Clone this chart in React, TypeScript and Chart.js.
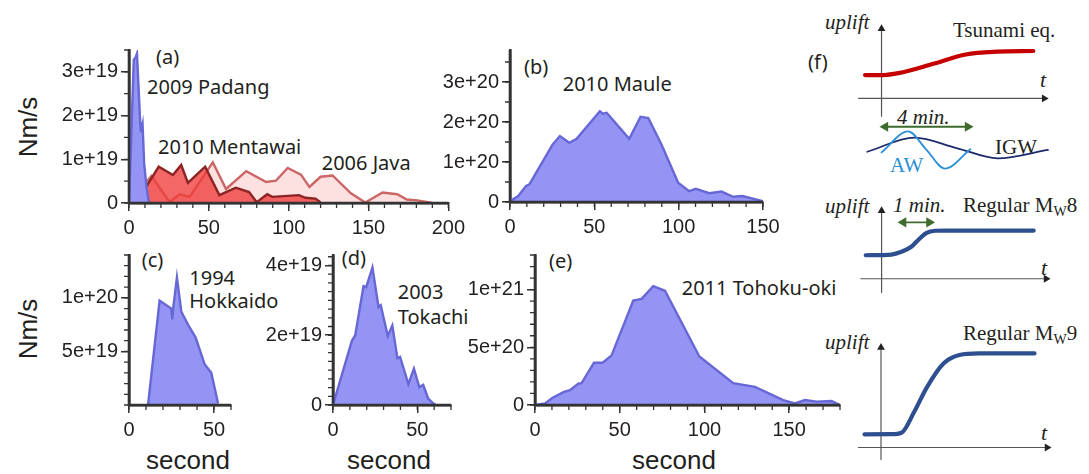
import React, { useEffect, useRef } from 'react';
import { Chart, registerables } from 'chart.js';
Chart.register(...registerables);

const SANS = "'Liberation Sans', Arial, Helvetica, sans-serif";
const NOTO = "'Noto Sans', 'Open Sans', sans-serif";
const SERIF = "'Liberation Serif', 'Times New Roman', serif";
const INK = '#231f20';
const AXIS_INK = '#333333';

// ---------- (a) 2009 Padang / 2010 Mentawai / 2006 Java (s, Nm/s) ----------
const padangT = [0, 3, 4, 5, 7, 7.5, 8.5, 9.5, 11, 12.5];
const padangV = [0, 3.28e19, 3.32e19, 3.42e19, 1.85e19, 1.62e19, 1.8e19, 0.9e19, 0.35e19, 0];
const mentawaiT = [0, 4.6, 18.6, 27.5, 32.7, 36.9, 47.7, 56.6, 66.9, 75.2, 80, 86.6, 89.7, 106.4, 110.5, 116.8, 119.9];
const mentawaiV = [0, 0, 0.83e19, 0.64e19, 0.87e19, 0.46e19, 0.83e19, 0.18e19, 0.35e19, 0.25e19, 0.02e19, 0.2e19, 0.14e19, 0.18e19, 0.12e19, 0.1e19, 0.02e19];
const javaT = [0, 14, 25.4, 31.7, 38, 52.5, 60.8, 73.4, 85.9, 92, 99.4, 107.7, 113, 120, 127.5, 139, 148, 158.8, 168, 174, 180.6, 190];
const javaV = [0, 0.62e19, 0.02e19, 0.2e19, 0.14e19, 0.93e19, 0.32e19, 0.73e19, 0.48e19, 0.51e19, 0.8e19, 0.65e19, 0.37e19, 0.6e19, 0.63e19, 0.22e19, 0.01e19, 0.24e19, 0.2e19, 0.08e19, 0.06e19, 0];
const aXTicks = [0, 50, 100, 150, 200];
const aXLabels = ['0', '50', '100', '150', '200'];
const aYTicks = [0, 1e19, 2e19, 3e19];
const aYLabels = ['0', '1e+19', '2e+19', '3e+19'];

// ---------- (b) 2010 Maule ----------
const mauleT = [0, 4.9, 9.5, 11.5, 25.3, 29.6, 35.1, 39.5, 53.3, 54.9, 57.3, 70.7, 77.4, 82, 89.8, 99.7, 106.2, 110.2, 118.1, 125.4, 132.3, 137.8, 150];
const mauleV = [0.02e20, 0.15e20, 0.4e20, 0.44e20, 1.44e20, 1.65e20, 1.48e20, 1.58e20, 2.27e20, 2.21e20, 2.23e20, 1.58e20, 2.13e20, 2.1e20, 1.44e20, 0.48e20, 0.27e20, 0.33e20, 0.22e20, 0.26e20, 0.13e20, 0.15e20, 0.02e20];
const bXTicks = [0, 50, 100, 150];
const bXLabels = ['0', '50', '100', '150'];
const bYTicks = [0, 1e20, 2e20, 3e20];
const bYLabels = ['0', '1e+20', '2e+20', '3e+20'];

// ---------- (c) 1994 Hokkaido ----------
const hokkaidoT = [11.2, 18, 24.9, 25.5, 25.9, 28.2, 30.8, 34.7, 39.2, 44.5, 48.4, 52.4];
const hokkaidoV = [0, 0.975e20, 0.9e20, 0.8e20, 0.89e20, 1.19e20, 0.87e20, 0.75e20, 0.63e20, 0.38e20, 0.3e20, 0.015e20];
const cXTicks = [0, 50];
const cXLabels = ['0', '50'];
const cYTicks = [5e19, 1e20];
const cYLabels = ['5e+19', '1e+20'];

// ---------- (d) 2003 Tokachi ----------
const tokachiT = [0, 11.2, 13.2, 18.1, 19.7, 23.4, 27, 28.3, 32.5, 35.2, 38.2, 39.8, 44.7, 48, 51.2, 53.5, 56.5, 59.4, 61];
const tokachiV = [0, 1.84e19, 2.0e19, 3.41e19, 3.38e19, 3.94e19, 2.81e19, 2.86e19, 1.98e19, 2.28e19, 1.34e19, 1.38e19, 0.6e19, 1.04e19, 0.51e19, 0.58e19, 0.18e19, 0.05e19, 0];
const dXTicks = [0, 50];
const dXLabels = ['0', '50'];
const dYTicks = [0, 2e19, 4e19];
const dYLabels = ['0', '2e+19', '4e+19'];

// ---------- (e) 2011 Tohoku-oki ----------
const tohokuT = [0, 5.9, 10.4, 17.1, 20.6, 25.6, 27.5, 34.8, 39.9, 45.2, 58, 62.9, 69.8, 76.7, 97, 117, 129.8, 146.5, 153.4, 159.3, 166.2, 175, 180];
const tohokuV = [0, 0.014e21, 0.063e21, 0.114e21, 0.129e21, 0.186e21, 0.19e21, 0.366e21, 0.366e21, 0.43e21, 0.906e21, 0.92e21, 1.03e21, 0.99e21, 0.42e21, 0.19e21, 0.157e21, 0.043e21, 0.014e21, 0.043e21, 0.029e21, 0.034e21, 0];
const eXTicks = [0, 50, 100, 150];
const eXLabels = ['0', '50', '100', '150'];
const eYTicks = [0, 5e20, 1e21];
const eYLabels = ['0', '5e+20', '1e+21'];

// ---------- (f) schematic uplift histories (t in s, uplift arbitrary) ----------
const tsunamiT = [-44, 5, 45, 138, 225, 310, 405];
const tsunamiU = [2.5, 2.5, 2.7, 3.7, 4.7, 5.0, 5.07];
const awT = [0, 71, 120, 169, 237];
const awU = [-5.77, -3.53, -5.5, -7.5, -5.43];
const igwT = [-38, 88, 200, 310, 444];
const igwU = [-5.7, -4.2, -5.3, -6.4, -5.5];
const fourMinT = [10, 230];
const mw8T = [-32, 20, 40, 60, 75, 90, 108, 130, 307];
const mw8U = [2.57, 2.65, 2.95, 3.5, 4.3, 5.0, 5.25, 5.27, 5.27];
const oneMinT = [44, 96];
const mw9T = [-33, 20, 41, 66, 92, 125, 157, 196, 307];
const mw9U = [1.4, 1.42, 1.57, 3.74, 6.4, 8.9, 9.8, 9.97, 9.97];

const BLUE_LINE = '#6767d6';
const BLUE_FILL = '#9494f4';

// minor tick marks and the axis frame, drawn through the chart's own scales
function frameTicksPlugin(p: any) {
  return {
    id: 'frameTicks',
    afterDraw(chart: any) {
      const { ctx, chartArea: a } = chart;
      const xs = chart.scales.x;
      const ys = chart.scales.y;
      ctx.save();
      ctx.strokeStyle = AXIS_INK;
      ctx.lineWidth = 1.3;
      ctx.beginPath();
      const nx = Math.floor((xs.max - xs.min) / p.xMinor + 1e-6);
      for (let i = 0; i <= nx; i++) {
        const px = xs.getPixelForValue(xs.min + i * p.xMinor);
        ctx.moveTo(px, a.bottom);
        ctx.lineTo(px, a.bottom + 5);
      }
      const ny = Math.floor((ys.max - ys.min) / p.yMinor + 1e-6);
      for (let i = 0; i <= ny; i++) {
        const py = ys.getPixelForValue(ys.min + i * p.yMinor);
        ctx.moveTo(a.left, py);
        ctx.lineTo(a.left - 5, py);
      }
      ctx.stroke();
      ctx.lineWidth = 2.6;
      ctx.beginPath();
      ctx.moveTo(a.left, a.top);
      ctx.lineTo(a.left, a.bottom);
      ctx.lineTo(a.right, a.bottom);
      ctx.stroke();
      ctx.restore();
    },
  };
}

function panelConfig(p: any) {
  const tickFont = { family: SANS, size: 20 };
  const mkGrid = () => ({ display: true, drawOnChartArea: false, drawTicks: true, tickLength: 8, color: AXIS_INK, lineWidth: 1.5 });
  const mkBorder = () => ({ display: true, color: AXIS_INK, width: 2.6 });
  return {
    type: 'line',
    data: {
      datasets: p.series.map((s: any) => ({
        data: s.t.map((t: number, i: number) => ({ x: t, y: s.v[i] })),
        borderColor: s.line,
        backgroundColor: s.fill,
        fill: 'origin',
        borderWidth: 2.4,
        pointRadius: 0,
      })),
    },
    options: {
      animation: false,
      responsive: false,
      events: [],
      layout: { padding: { top: p.padTop, right: p.padRight, bottom: 0, left: 0 } },
      plugins: { legend: { display: false }, tooltip: { enabled: false } },
      scales: {
        x: {
          type: 'linear', min: p.xMin, max: p.xMax,
          afterBuildTicks: (s: any) => { s.ticks = p.xTicks.map((v: number) => ({ value: v })); },
          afterFit: (s: any) => { s.height = p.xHeight; },
          ticks: { callback: (_v: any, i: number) => p.xLabels[i], font: tickFont, color: INK, padding: 5 },
          grid: mkGrid(),
          border: mkBorder(),
        },
        y: {
          type: 'linear', min: p.yMin, max: p.yMax,
          afterBuildTicks: (s: any) => { s.ticks = p.yTicks.map((v: number) => ({ value: v })); },
          afterFit: (s: any) => { s.width = p.yWidth; },
          ticks: { callback: (_v: any, i: number) => p.yLabels[i], font: tickFont, color: INK, padding: 3 },
          grid: mkGrid(),
          border: mkBorder(),
        },
      },
    },
    plugins: [frameTicksPlugin(p)],
  };
}

function line(t: number[], u: number[], color: string, width: number, smooth: boolean, extra: any = {}) {
  return {
    data: t.map((x, i) => ({ x, y: u[i] })),
    borderColor: color,
    backgroundColor: color,
    pointBackgroundColor: color,
    pointBorderColor: color,
    borderWidth: width,
    pointRadius: 0,
    pointStyle: 'triangle',
    fill: false,
    tension: smooth ? 0.4 : 0,
    cubicInterpolationMode: smooth ? 'monotone' : 'default',
    borderCapStyle: 'round',
    clip: false,
    ...extra,
  };
}

function schematicConfig(xMin: number, xMax: number, yMin: number, yMax: number, datasets: any[]) {
  return {
    type: 'line',
    data: { datasets },
    options: {
      animation: false,
      responsive: false,
      events: [],
      layout: { padding: 0 },
      plugins: { legend: { display: false }, tooltip: { enabled: false } },
      scales: {
        x: { type: 'linear', display: false, min: xMin, max: xMax },
        y: { type: 'linear', display: false, min: yMin, max: yMax },
      },
    },
  };
}

const AXIS = '#555';
const ARROW = { pointRadius: [0, 4.5], pointBackgroundColor: '#222', pointBorderColor: '#222', pointBorderWidth: 0 };

function ChartCanvas({ left, top, width, height, make }: any) {
  const ref = useRef<HTMLCanvasElement>(null);
  useEffect(() => {
    const c = new Chart(ref.current as HTMLCanvasElement, make());
    return () => c.destroy();
  }, []);
  return <canvas ref={ref} width={width} height={height} style={{ position: 'absolute', left, top, width, height }} />;
}

function T({ x, y, children, size = 20, family = NOTO, color = INK, italic = false }: any) {
  return (
    <div style={{ position: 'absolute', left: x, top: y - size / 2, fontSize: size, lineHeight: `${size}px`, fontFamily: family, color, fontStyle: italic ? 'italic' : 'normal', whiteSpace: 'nowrap' }}>
      {children}
    </div>
  );
}

const PA = { w: 430, h: 205, xMin: 0, xMax: 200, yMin: 0, yMax: 3.5e19, xTicks: aXTicks, xLabels: aXLabels, yTicks: aYTicks, yLabels: aYLabels, xMinor: 10, yMinor: 5e18, yWidth: 89, xHeight: 37, padTop: 15, padRight: 20 };
const PB = { w: 355, h: 205, xMin: 0, xMax: 150, yMin: 0, yMax: 3.8e20, xTicks: bXTicks, xLabels: bXLabels, yTicks: bYTicks, yLabels: bYLabels, xMinor: 10, yMinor: 5e19, yWidth: 80, xHeight: 38, padTop: 15, padRight: 22 };
const PC = { w: 210, h: 205, xMin: 0, xMax: 60, yMin: 0, yMax: 1.4e20, xTicks: cXTicks, xLabels: cXLabels, yTicks: cYTicks, yLabels: cYLabels, xMinor: 10, yMinor: 1e19, yWidth: 89, xHeight: 40, padTop: 13, padRight: 19 };
const PD = { w: 215, h: 205, xMin: 0, xMax: 70, yMin: 0, yMax: 4.3e19, xTicks: dXTicks, xLabels: dXLabels, yTicks: dYTicks, yLabels: dYLabels, xMinor: 10, yMinor: 2.5e18, yWidth: 78, xHeight: 40, padTop: 13, padRight: 19 };
const PE = { w: 405, h: 205, xMin: 0, xMax: 180, yMin: 0, yMax: 1.3e21, xTicks: eXTicks, xLabels: eXLabels, yTicks: eYTicks, yLabels: eYLabels, xMinor: 10, yMinor: 1e20, yWidth: 80, xHeight: 40, padTop: 13, padRight: 20 };

export default function App() {
  const cfgA = () => panelConfig({
    ...PA,
    series: [
      { t: padangT, v: padangV, line: BLUE_LINE, fill: BLUE_FILL },
      { t: mentawaiT, v: mentawaiV, line: '#8c2424', fill: 'rgba(240,60,60,0.78)' },
      { t: javaT, v: javaV, line: '#cc6565', fill: 'rgba(252,215,215,0.75)' },
    ],
  });
  const cfgB = () => panelConfig({ ...PB, series: [{ t: mauleT, v: mauleV, line: BLUE_LINE, fill: BLUE_FILL }] });
  const cfgC = () => panelConfig({ ...PC, series: [{ t: hokkaidoT, v: hokkaidoV, line: BLUE_LINE, fill: BLUE_FILL }] });
  const cfgD = () => panelConfig({ ...PD, series: [{ t: tokachiT, v: tokachiV, line: BLUE_LINE, fill: BLUE_FILL }] });
  const cfgE = () => panelConfig({ ...PE, series: [{ t: tohokuT, v: tohokuV, line: BLUE_LINE, fill: BLUE_FILL }] });

  const cfgF1 = () => schematicConfig(-202, 538, -8.1, 9.9, [
    line(tsunamiT, tsunamiU, '#c40000', 4.2, true),
    line(awT, awU, '#2b8fd6', 1.8, true),
    line(igwT, igwU, '#1b2a6b', 1.8, true),
    line(fourMinT, [-3.03, -3.03], '#3e6b2e', 1.8, false, { pointRadius: [4, 4], rotation: [-90, 90] }),
    line([0, 0], [-1.9, 7.45], AXIS, 1.2, false, { ...ARROW, rotation: 0 }),
    line([-61, 434], [0, 0], AXIS, 1.2, false, { ...ARROW, rotation: 90 }),
  ]);
  const cfgF2 = () => schematicConfig(-153, 407, -3.33, 10.17, [
    line(mw8T, mw8U, '#2d4f8f', 4.2, true),
    line(oneMinT, [6.17, 6.17], '#3e6b2e', 1.8, false, { pointRadius: [4, 4], rotation: [-90, 90] }),
    line([0, 0], [-1.5, 7.45], AXIS, 1.2, false, { ...ARROW, rotation: 0 }),
    line([-42, 332], [0, 0], AXIS, 1.2, false, { ...ARROW, rotation: 90 }),
  ]);
  const cfgF3 = () => schematicConfig(-153, 407, -2.33, 13.57, [
    line(mw9T, mw9U, '#2d4f8f', 4.2, true),
    line([0, 0], [-1.26, 10.6], AXIS, 1.2, false, { ...ARROW, rotation: 0 }),
    line([-45, 332], [0, 0], AXIS, 1.2, false, { ...ARROW, rotation: 90 }),
  ]);

  const nm = (cy: number) => (
    <div style={{ position: 'absolute', left: 28, top: cy, transform: 'translate(-50%,-50%) rotate(-90deg)', fontFamily: SANS, fontSize: 26, lineHeight: '26px', color: INK, whiteSpace: 'nowrap' }}>Nm/s</div>
  );
  const second = (cx: number) => (
    <div style={{ position: 'absolute', left: cx, top: 447, transform: 'translateX(-50%)', fontFamily: SANS, fontSize: 26, lineHeight: '26px', color: INK, whiteSpace: 'nowrap' }}>second</div>
  );

  return (
    <div style={{ position: 'absolute', left: 0, top: 0, width: 1089, height: 474, background: '#fff', overflow: 'hidden' }}>
      {nm(127)}
      {nm(329)}
      {second(188)}
      {second(389)}
      {second(674)}

      <T x={156} y={56.5}>(a)</T>
      <T x={147} y={87}>2009 Padang</T>
      <T x={158} y={147}>2010 Mentawai</T>
      <T x={321.7} y={163.3}>2006 Java</T>
      <T x={524} y={67}>(b)</T>
      <T x={562.7} y={84}>2010 Maule</T>
      <T x={141.7} y={259.5}>(c)</T>
      <T x={189.3} y={278.3}>1994</T>
      <T x={189.3} y={301}>Hokkaido</T>
      <T x={341.7} y={258.3}>(d)</T>
      <T x={397.7} y={291.7}>2003</T>
      <T x={397.7} y={316.7}>Tokachi</T>
      <T x={549} y={260.5}>(e)</T>
      <T x={681.7} y={287.8}>2011 Tohoku-oki</T>

      <T x={808} y={62}>(f)</T>
      <T x={825} y={22} family={SERIF} size={21} italic>uplift</T>
      <T x={953} y={30} family={SERIF} size={21}>Tsunami eq.</T>
      <T x={1040} y={80} family={SERIF} size={22} italic>t</T>
      <T x={897} y={117} family={SERIF} size={21} italic>4 min.</T>
      <T x={890} y={165} family={SERIF} size={21} color="#2b8fd6">AW</T>
      <T x={995} y={147} family={SERIF} size={21}>IGW</T>
      <T x={825} y={206} family={SERIF} size={21} italic>uplift</T>
      <T x={893} y={205} family={SERIF} size={21} italic>1 min.</T>
      <T x={963} y={205} family={SERIF} size={21}>Regular M<span style={{ fontSize: 14, position: 'relative', top: 4 }}>W</span>8</T>
      <T x={1041} y={268} family={SERIF} size={22} italic>t</T>
      <T x={825} y={342} family={SERIF} size={21} italic>uplift</T>
      <T x={963} y={333} family={SERIF} size={21}>Regular M<span style={{ fontSize: 14, position: 'relative', top: 4 }}>W</span>9</T>
      <T x={1041} y={433} family={SERIF} size={22} italic>t</T>

      <ChartCanvas left={40} top={35} width={PA.w} height={PA.h} make={cfgA} />
      <ChartCanvas left={430} top={35} width={PB.w} height={PB.h} make={cfgB} />
      <ChartCanvas left={40} top={240} width={PC.w} height={PC.h} make={cfgC} />
      <ChartCanvas left={255} top={240} width={PD.w} height={PD.h} make={cfgD} />
      <ChartCanvas left={455} top={240} width={PE.w} height={PE.h} make={cfgE} />
      <ChartCanvas left={800} top={0} width={289} height={180} make={cfgF1} />
      <ChartCanvas left={800} top={180} width={289} height={135} make={cfgF2} />
      <ChartCanvas left={800} top={315} width={289} height={159} make={cfgF3} />
    </div>
  );
}
